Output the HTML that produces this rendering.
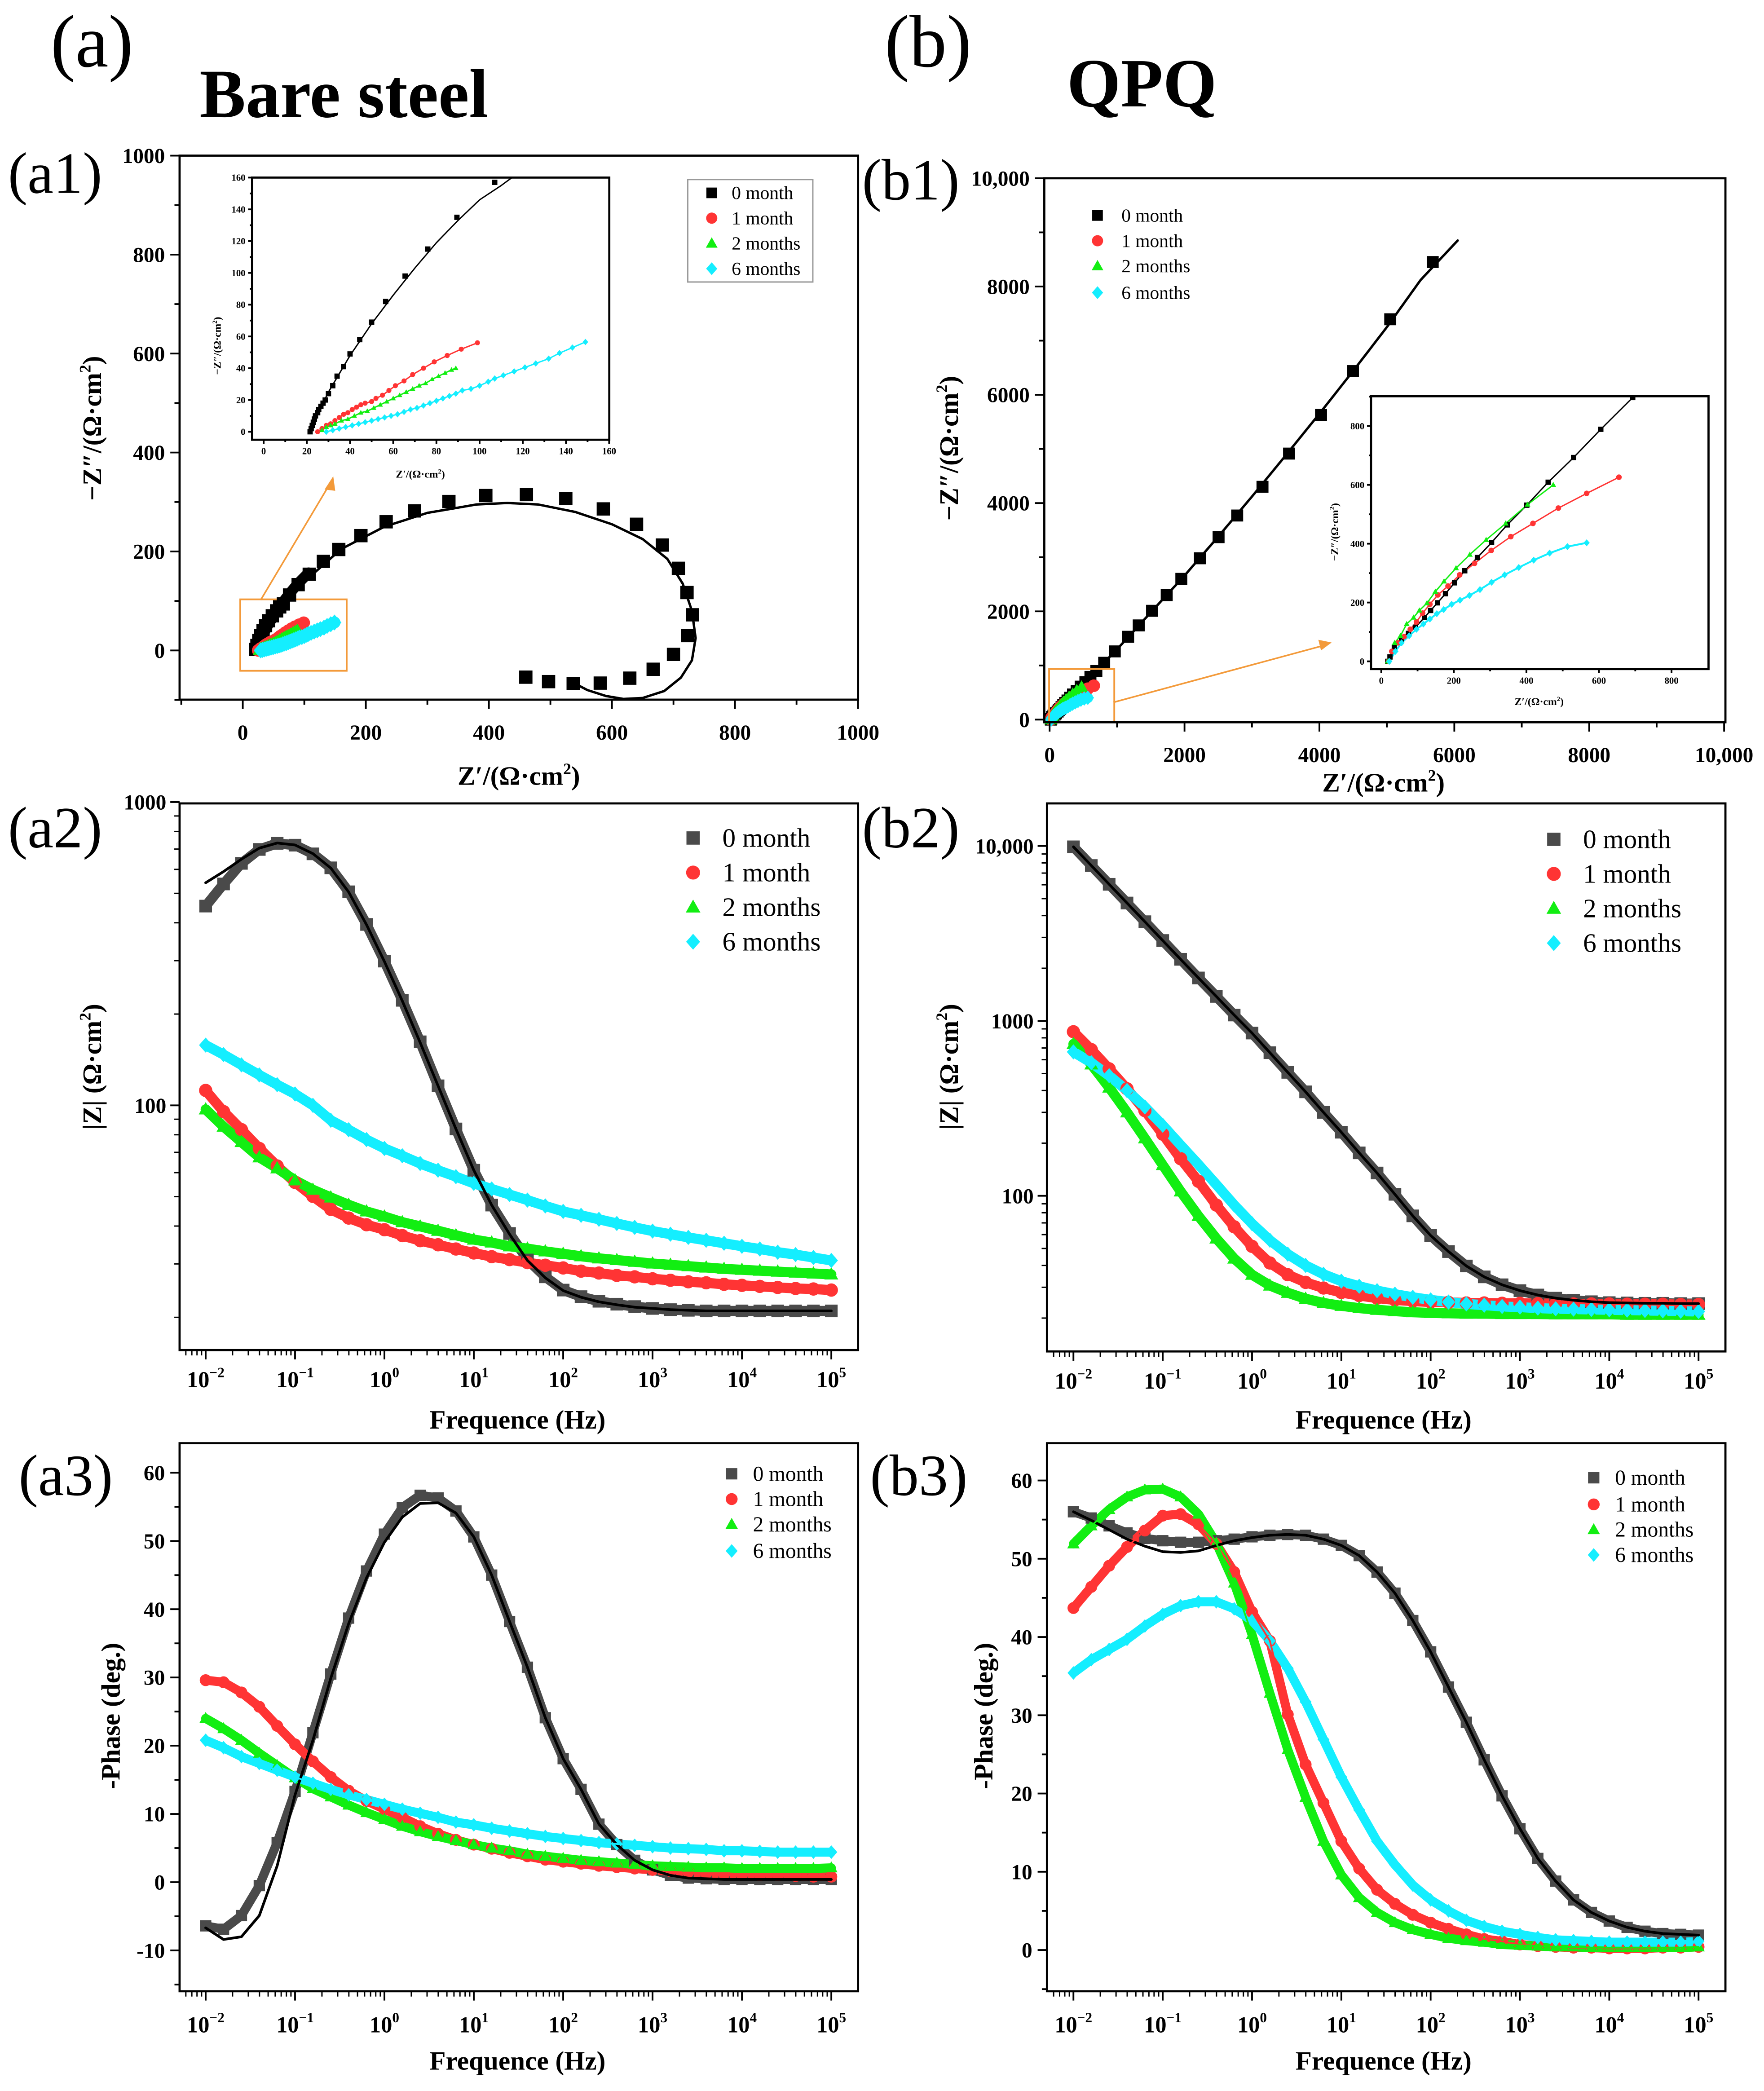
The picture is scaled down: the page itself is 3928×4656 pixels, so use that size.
<!DOCTYPE html>
<html><head><meta charset="utf-8"><title>EIS Bare steel vs QPQ</title>
<style>
html,body{margin:0;padding:0;background:#fff;}
svg{display:block;font-family:"Liberation Serif",serif;}
svg text{font-family:"Liberation Serif",serif;}
</style></head>
<body>
<svg id="fig" xmlns="http://www.w3.org/2000/svg" width="3928" height="4656" viewBox="0 0 1326 1572" preserveAspectRatio="none" font-family="Liberation Serif, serif">
<rect x="0" y="0" width="1326" height="1572" fill="#fff"/>
<text x="38" y="50" font-size="56">(a)</text>
<text x="150" y="88" font-size="52" font-weight="bold">Bare steel</text>
<text x="665" y="50" font-size="56">(b)</text>
<text x="802" y="80" font-size="52" font-weight="bold">QPQ</text>
<text x="6" y="145" font-size="44">(a1)</text>
<text x="648" y="150" font-size="44">(b1)</text>
<text x="6" y="637" font-size="44">(a2)</text>
<text x="648" y="637" font-size="44">(b2)</text>
<text x="14" y="1124" font-size="44">(a3)</text>
<text x="654" y="1124" font-size="44">(b3)</text>

<text x="390" y="590" font-size="20" font-weight="bold" text-anchor="middle">Z′/(Ω·cm<tspan font-size="12" dy="-8">2</tspan><tspan dy="8">)</tspan></text>
<text transform="translate(76,322) rotate(-90)" font-size="20" font-weight="bold" text-anchor="middle">−Z″/(Ω·cm<tspan font-size="12" dy="-8">2</tspan><tspan dy="8">)</tspan></text>
<text x="1040" y="595" font-size="20" font-weight="bold" text-anchor="middle">Z′/(Ω·cm<tspan font-size="12" dy="-8">2</tspan><tspan dy="8">)</tspan></text>
<text transform="translate(720,337) rotate(-90)" font-size="20" font-weight="bold" text-anchor="middle">−Z″/(Ω·cm<tspan font-size="12" dy="-8">2</tspan><tspan dy="8">)</tspan></text>
<text x="389" y="1074" font-size="20" font-weight="bold" text-anchor="middle">Frequence (Hz)</text>
<text transform="translate(76,802) rotate(-90)" font-size="20" font-weight="bold" text-anchor="middle">|Z| (Ω·cm<tspan font-size="12" dy="-8">2</tspan><tspan dy="8">)</tspan></text>
<text x="1040" y="1074" font-size="20" font-weight="bold" text-anchor="middle">Frequence (Hz)</text>
<text transform="translate(720,802) rotate(-90)" font-size="20" font-weight="bold" text-anchor="middle">|Z| (Ω·cm<tspan font-size="12" dy="-8">2</tspan><tspan dy="8">)</tspan></text>
<text x="389" y="1556" font-size="20" font-weight="bold" text-anchor="middle">Frequence (Hz)</text>
<text transform="translate(90,1290) rotate(-90)" font-size="20" font-weight="bold" text-anchor="middle">-Phase (deg.)</text>
<text x="1040" y="1556" font-size="20" font-weight="bold" text-anchor="middle">Frequence (Hz)</text>
<text transform="translate(746,1290) rotate(-90)" font-size="20" font-weight="bold" text-anchor="middle">-Phase (deg.)</text>

<text x="316" y="359" font-size="8" font-weight="bold" text-anchor="middle">Z′/(Ω·cm<tspan font-size="5" dy="-3">2</tspan><tspan dy="3">)</tspan></text>
<text transform="translate(166,260) rotate(-90)" font-size="8" font-weight="bold" text-anchor="middle">−Z″/(Ω·cm<tspan font-size="5" dy="-3">2</tspan><tspan dy="3">)</tspan></text>
<text x="1157" y="530" font-size="8" font-weight="bold" text-anchor="middle">Z′/(Ω·cm<tspan font-size="5" dy="-3">2</tspan><tspan dy="3">)</tspan></text>
<text transform="translate(1006,400) rotate(-90)" font-size="8" font-weight="bold" text-anchor="middle">−Z″/(Ω·cm<tspan font-size="5" dy="-3">2</tspan><tspan dy="3">)</tspan></text>
</svg>
<script>
// ---------- shared categories ----------
const logFreq = [-2,-1.8,-1.6,-1.4,-1.2,-1,-0.8,-0.6,-0.4,-0.2,0,0.2,0.4,0.6,0.8,1,1.2,1.4,1.6,1.8,2,2.2,2.4,2.6,2.8,3,3.2,3.4,3.6,3.8,4,4.2,4.4,4.6,4.8,5];
const seriesLabels = ["0 month","1 month","2 months","6 months"];
const logDecades = [-2,-1,0,1,2,3,4,5];
// ---------- a1 Nyquist (bare steel) ----------
const a1Zr0 = [21,23,26,29,33,37,42,48,55,60,66,76,90,108,131,156,192,233,279,335,395,461,525,586,640,682,708,722,731,723,700,667,629,581,537,497,460];
const a1Zi0 = [2,10,20,30,40,50,60,70,80,88,94,112,133,154,180,204,232,260,282,301,313,315,307,286,255,213,166,117,72,30,-8,-38,-56,-66,-67,-63,-54];
const a1FitZr = [20,40,70,110,160,230,300,380,430,480,540,600,650,690,715,730,736,730,712,685,650,619,590,560,540];
const a1FitZi = [0,40,95,150,205,250,278,295,298,295,280,255,225,185,135,80,25,-20,-55,-82,-96,-98,-92,-80,-67];
const a1TicksX = [0,200,400,600,800,1000];
const a1TicksY = [0,200,400,600,800,1000];
// a1 inset
const in0Zr = [21.5,22,22.5,23,23.5,24,25,25.5,26.5,27.5,28.5,30,32,34,37,40,44.5,50,56.5,65.5,76,89.5,107];
const in0Zi = [0,2,4,6,8,10,12,14,16,18,20,24,29,35,41,49,58,69,82,98,115,135,157];
const inFitZr = [21,30,40,50,60,70,80,90,100,110,115];
const inFitZi = [0,25,48,68,86,103,119,133,146,155,160];
const in1Zr = [25,27,29,31,33,35,37,39,41,43,45,47,50,52,55,58,61,65,69,74,79,85,91.5,99];
const in1Zi = [0,2,4,5,7,9,11,12,14,15.5,17,18,19,21,23,26,29,32,36,40,44,48,52,56];
const in2Zr = [27,29,31,33,36,39,42,45,48,51,54,57,60,63,66,69,72,75,78,81,84,87,89];
const in2Zi = [1,3,4,5,7,8,10,12,13,15,17,19,21,23,25,27,29,30.5,33,35,37,39,40];
const in6Zr = [29,32,35,38,41,44,47,50,53,56,59,62,65,68,71,74,77,80,83,86,89,92,96,100,104,107,111,116,121,126,132,137,143,149];
const in6Zi = [0,1,2,3,4,5,6,7,8,9,10,11,12.5,14,15,16.5,18,19.5,21,22.5,24,26,27,29,31.5,33.5,35.5,38,40.5,43,46,49.5,53,56.5];
const inTicks = [0,20,40,60,80,100,120,140,160];
// ---------- b1 Nyquist (QPQ) ----------
const b1Zr0 = [809,966,1164,1321,1519,1736,1953,2229,2505,2781,3156,3550,4024,4497,5050,5680];
const b1Zi0 = [1050,1260,1530,1740,2010,2300,2600,2980,3370,3770,4300,4914,5627,6437,7395,8452];
const b1FitZr = [0,600,1000,1500,2000,2500,3000,3500,4000,4500,5000,5500,6050];
const b1FitZi = [0,789,1300,1980,2660,3380,4120,4880,5650,6440,7250,8120,8850];
const q0Zr = [18,24,36,56,75,94,119,136,155,177,202,230,265,304,347,401,460,530,605,693];
const q0Zi = [0,15,48,73,95,116,149,173,199,230,267,308,353,404,464,531,609,693,789,897];
const q1Zr = [20,29,46,63,80,97,114,134,156,184,216,257,303,357,418,488,566,655];
const q1Zi = [0,34,63,84,109,134,164,194,226,256,294,333,377,424,469,521,571,626];
const q2Zr = [18,37,53,70,89,105,126,149,173,206,244,289,343,403,474];
const q2Zi = [0,63,87,127,149,173,198,237,272,317,363,413,469,533,600];
const q6Zr = [22,39,56,77,97,116,134,153,172,194,217,243,272,304,340,379,420,464,513,566];
const q6Zi = [0,34,63,87,109,127,144,162,176,194,208,224,244,269,294,319,344,368,390,403];
const b1TicksX = [0,2000,4000,6000,8000,10000];
const b1TickLabelsX = ["0","2000","4000","6000","8000","10,000"];
const b1TicksY = [0,2000,4000,6000,8000,10000];
const b1TickLabelsY = ["0","2000","4000","6000","8000","10,000"];
const qinTicks = [0,200,400,600,800];
// ---------- a2 |Z| bare ----------
const a2Mag0 = [454,537,628,698,731,721,675,607,506,395,299,222,162,116,83.6,61.1,46.9,37.8,31.0,27.2,24.6,23.4,22.6,22.1,21.7,21.4,21.2,21.1,21.0,21.0,21.0,21.0,21.0,21.0,21.0,21.0];
const a2Fit0 = [542,590,648,705,733,722,676,606,505,394,298,221,161,116,83.6,61.1,46.9,37.6,30.8,27.0,24.5,23.3,22.5,22.0,21.6,21.4,21.2,21.1,21.0,21.0,21.0,21.0,21.0,21.0,21.0,21.0];
const a2Mag1 = [112,95.4,83.2,72.1,63.1,55.7,50.1,45.4,42.5,40.4,38.9,37.2,35.8,34.7,33.6,32.6,31.7,31.0,30.3,29.7,29.1,28.4,28.0,27.5,27.2,26.8,26.5,26.2,26.0,25.7,25.5,25.3,25.1,24.9,24.8,24.6];
const a2Mag2 = [97,85.1,75.7,67.4,62.0,56.6,52.7,49.7,47.0,44.7,43.0,41.2,39.9,38.6,37.3,36.1,35.3,34.3,33.7,33.0,32.4,31.8,31.3,30.9,30.5,30.1,29.8,29.5,29.2,28.9,28.7,28.5,28.3,28.1,27.9,27.7];
const a2Mag6 = [158,147,136,126,117,109,100,89.3,83.1,77.1,72.1,68.2,64.3,61.1,58.2,55.3,53.0,50.8,48.7,46.6,44.7,43.4,42.1,40.8,39.6,38.5,37.6,36.7,35.9,35.1,34.3,33.6,32.8,32.2,31.5,30.8];
const a2TickLabelsY = ["100","1000"];
// ---------- b2 |Z| QPQ ----------
const b2Mag0 = [9890,7730,6040,4720,3690,2880,2250,1760,1380,1080,852,658,508,393,300,231,176,135,102,76.8,59.3,48.0,39.7,34.4,31.0,28.7,27.1,26.0,25.3,24.8,24.5,24.4,24.3,24.3,24.2,24.2];
const b2Mag1 = [867,685,532,409,307,225,163,121,88.5,66.5,51.4,41.3,35.4,32.0,29.7,28.0,26.9,26.0,25.4,25.0,24.7,24.6,24.4,24.4,24.3,24.3,24.2,24.2,24.1,24.1,24.1,24.0,24.0,24.0,23.9,23.9];
const b2Mag2 = [738,564,416,300,213,150,106,76.7,57.0,43.8,35.4,30.7,27.9,25.8,24.4,23.5,22.8,22.3,21.9,21.6,21.4,21.3,21.2,21.2,21.1,21.1,21.1,21.0,21.0,21.0,21.0,20.9,20.9,20.9,20.9,20.9];
const b2Mag6 = [665,577,486,400,322,253,195,151,116,88.6,69.3,55.7,46.4,40.0,35.6,32.5,30.4,28.7,27.4,26.3,25.4,24.7,24.1,23.7,23.3,23.1,22.8,22.6,22.5,22.4,22.3,22.2,22.1,22.0,21.9,21.8];
const b2TickLabelsY = ["100","1000","10,000"];
// ---------- a3 phase bare ----------
const a3Ph0 = [-6.4,-6.9,-4.9,-0.5,5.8,13.3,21.9,30.5,38.7,45.6,51.0,54.9,56.7,56.3,54.4,50.6,45.0,38.2,31.5,24.1,18.1,13.6,8.5,5.5,3.2,1.8,1.0,0.6,0.5,0.4,0.4,0.4,0.4,0.4,0.4,0.4];
const a3Fit0 = [-6.7,-8.4,-8.0,-4.9,2.4,12.8,20.8,29.9,37.9,44.6,49.8,53.5,55.5,55.6,54.1,50.6,45.0,38.2,31.5,24.1,18.1,13.6,8.5,5.5,3.2,1.8,1.0,0.6,0.5,0.4,0.4,0.4,0.4,0.4,0.4,0.4];
const a3Ph1 = [29.6,29.3,27.8,25.7,22.9,20.2,17.7,15.4,13.4,11.9,10.7,9.5,8.2,7.1,6.2,5.5,4.9,4.3,3.8,3.3,3.0,2.7,2.4,2.2,2.0,1.8,1.6,1.5,1.3,1.2,1.1,1.0,1.0,0.9,0.8,0.8];
const a3Ph2 = [24.0,22.5,20.8,18.9,17.1,15.3,13.7,12.5,11.3,10.2,9.2,8.2,7.4,6.7,6.1,5.5,5.0,4.6,4.1,3.8,3.5,3.2,3.0,2.8,2.6,2.4,2.3,2.2,2.1,2.1,2.0,2.0,2.0,2.0,2.0,2.1];
const a3Ph6 = [20.8,19.7,18.4,17.4,16.4,15.4,14.5,13.6,12.8,12.1,11.4,10.7,10.1,9.5,8.8,8.4,7.9,7.5,7.1,6.7,6.4,6.1,5.8,5.6,5.4,5.2,5.0,4.9,4.8,4.6,4.6,4.5,4.4,4.4,4.4,4.4];
const a3TicksY = [-10,0,10,20,30,40,50,60];
// ---------- b3 phase QPQ ----------
const b3Ph0 = [56.0,55.2,54.2,53.3,52.6,52.3,52.1,52.1,52.3,52.5,52.8,53.0,53.1,53.0,52.5,51.7,50.4,48.3,45.6,42.1,38.1,33.6,29.1,24.3,19.7,15.5,11.7,8.8,6.4,4.8,3.7,2.9,2.4,2.1,2.0,1.9];
const b3Fit0 = [56.0,54.9,53.7,52.5,51.6,50.9,50.8,51.0,51.7,52.3,52.7,53.0,53.1,53.0,52.5,51.7,50.4,48.3,45.6,42.1,38.1,33.6,29.1,24.3,19.7,15.5,11.7,8.8,6.4,4.8,3.7,2.9,2.4,2.1,2.0,1.9];
const b3Ph1 = [43.7,46.4,49.1,51.5,53.6,55.5,55.7,54.4,51.9,48.3,43.2,39.5,30.1,23.7,18.8,13.9,10.4,7.7,5.9,4.5,3.5,2.7,2.0,1.4,1.1,0.7,0.5,0.4,0.3,0.3,0.2,0.2,0.2,0.3,0.3,0.4];
const b3Ph2 = [51.9,54.2,56.3,57.9,58.8,58.9,57.9,55.7,52.0,46.9,40.3,32.8,25.6,19.5,13.9,9.6,6.7,4.8,3.5,2.6,2.0,1.5,1.2,1.0,0.7,0.6,0.5,0.4,0.4,0.3,0.3,0.3,0.3,0.3,0.3,0.4];
const b3Ph6 = [35.4,37.1,38.4,39.7,41.4,42.9,44.0,44.5,44.5,43.6,42.1,39.5,36.0,31.7,26.9,22.1,17.9,13.9,10.9,8.3,6.4,5.0,3.8,3.0,2.4,2.0,1.6,1.3,1.2,1.1,1.0,1.0,1.0,1.0,1.0,1.1];
const b3TicksY = [0,10,20,30,40,50,60];

// ================= drawing =================
const NS = 'http://www.w3.org/2000/svg';
const svg = document.getElementById('fig');
const RED = '#ff3434', GREEN = '#12ee12', CYAN = '#14eeff', DARK = '#4a4a4a';

function mk(tag, attrs, parent) {
  const e = document.createElementNS(NS, tag);
  for (const k in attrs) e.setAttribute(k, attrs[k]);
  (parent || svg).appendChild(e);
  return e;
}
function lin(v0, p0, v1, p1) { return v => p0 + (v - v0) * (p1 - p0) / (v1 - v0); }
function logScale(l0, p0, l1, p1) { const f = lin(l0, p0, l1, p1); return v => f(Math.log10(v)); }

function group(name) {
  const g = mk('g', {});
  
  
  return g;
}
function frame(g, f, name) {
  const r = mk('rect', {x: f.l, y: f.t, width: f.r - f.l, height: f.b - f.t, fill: 'none', stroke: '#000', 'stroke-width': 1.6}, g);
  
  
}
function tick(g, x1, y1, x2, y2, w) {
  const t = mk('line', {x1: x1, y1: y1, x2: x2, y2: y2, stroke: '#000', 'stroke-width': w || 1.3}, g);
  
  
}
function label(g, x, y, s, fs, anchor, name) {
  const t = mk('text', {x: x, y: y, 'font-size': fs, 'font-weight': 'bold', 'text-anchor': anchor || 'middle', 'font-family': 'Liberation Serif, serif'}, g);
  t.textContent = s;
  
  
  return t;
}
function powLabel(g, x, y, e, fs) {
  const t = mk('text', {x: x, y: y, 'font-size': fs, 'font-weight': 'bold', 'text-anchor': 'middle', 'font-family': 'Liberation Serif, serif'}, g);
  
  
  const a = mk('tspan', {}, t); a.textContent = '10';
  const b = mk('tspan', {'font-size': fs * 0.62, dy: -fs * 0.45}, t);
  b.textContent = (e < 0 ? '\u2212' + (-e) : '' + e);
}
function xLinTicks(g, X, f, majors, labels, minorStep, fs, off, len) {
  majors.forEach((v, i) => {
    tick(g, X(v), f.b, X(v), f.b + len);
    label(g, X(v), f.b + off, labels ? labels[i] : String(v), fs, 'middle', 'x-tick-label');
  });
  if (minorStep) {
    const lo = majors[0] - minorStep * 10, hi = majors[majors.length - 1];
    for (let v = lo; v <= hi; v += minorStep) {
      const x = X(v);
      if (x >= f.l - 0.5 && x <= f.r + 0.5 && !majors.includes(v)) tick(g, x, f.b, x, f.b + len * 0.55);
    }
  }
}
function yLinTicks(g, Y, f, majors, labels, minorStep, fs, off, len) {
  majors.forEach((v, i) => {
    tick(g, f.l - len, Y(v), f.l, Y(v));
    label(g, f.l - off, Y(v) + fs * 0.35, labels ? labels[i] : String(v), fs, 'end', 'y-tick-label');
  });
  if (minorStep) {
    const lo = majors[0] - minorStep * 10, hi = majors[majors.length - 1] + minorStep * 10;
    for (let v = lo; v <= hi; v += minorStep) {
      const y = Y(v);
      if (y >= f.t - 0.5 && y <= f.b + 0.5 && !majors.includes(v)) tick(g, f.l - len * 0.55, y, f.l, y);
    }
  }
}
function xLogTicks(g, XL, f, fs, off) {
  logDecades.forEach(e => {
    const x = XL(e);
    tick(g, x, f.b, x, f.b + 7);
    powLabel(g, x, f.b + off, e, fs);
    if (e < 5) for (let m = 2; m <= 9; m++) {
      const xm = XL(e + Math.log10(m));
      tick(g, xm, f.b, xm, f.b + 4, 1);
    }
  });
  for (let m = 2; m <= 9; m++) { const xm = XL(-3 + Math.log10(m)); if (xm >= f.l) tick(g, xm, f.b, xm, f.b + 4, 1); }
}
function yLogTicks(g, Y, f, decades, labels, fs, off) {
  decades.forEach((d, i) => {
    tick(g, f.l - 7, Y(d), f.l, Y(d));
    if (labels[i]) label(g, f.l - off, Y(d) + fs * 0.35, labels[i], fs, 'end', 'y-tick-label');
  });
  const e0 = Math.floor(Math.log10(decades[0])) - 1, e1 = Math.log10(decades[decades.length - 1]);
  for (let e = e0; e <= e1; e++) for (let m = 2; m <= 9; m++) {
    const y = Y(m * Math.pow(10, e));
    if (y >= f.t && y <= f.b) tick(g, f.l - 4, y, f.l, y, 1);
  }
}
function marker(g, type, x, y, s, color) {
  let e;
  const h = s / 2;
  if (type === 'square') e = mk('rect', {x: x - h, y: y - h, width: s, height: s, fill: color}, g);
  else if (type === 'circle') e = mk('circle', {cx: x, cy: y, r: h * 1.05, fill: color}, g);
  else if (type === 'triangle') e = mk('polygon', {points: `${x},${y - h * 1.15} ${x - h * 1.1},${y + h * 0.8} ${x + h * 1.1},${y + h * 0.8}`, fill: color}, g);
  else e = mk('polygon', {points: `${x},${y - h * 1.2} ${x + h * 1.05},${y} ${x},${y + h * 1.2} ${x - h * 1.05},${y}`, fill: color}, g);
  
  
  return e;
}
function pathD(xs, ys) { return xs.map((x, i) => (i ? 'L' : 'M') + x.toFixed(2) + ',' + ys[i].toFixed(2)).join(' '); }
function line(g, xs, ys, color, w, name) {
  const p = mk('path', {d: pathD(xs, ys), fill: 'none', stroke: color, 'stroke-width': w, 'stroke-linejoin': 'round', 'stroke-linecap': 'round'}, g);
  
  
}
function scatter(g, xs, ys, type, s, color, name) {
  const sg = mk('g', {}, g);
  
  
  xs.forEach((x, i) => marker(sg, type, x, ys[i], s, color));
}
const TYPES = ['square', 'circle', 'triangle', 'diamond'];
function legend(g, x, ys, tx, fs, s, colors, name) {
  const lg = mk('g', {}, g);
  
  
  seriesLabels.forEach((lab, i) => {
    const m = marker(lg, TYPES[i], x, ys[i], s, colors[i]);
    
    const t = mk('text', {x: tx, y: ys[i] + fs * 0.33, 'font-size': fs, 'font-family': 'Liberation Serif, serif'}, lg);
    t.textContent = lab;
    
    
  });
}

// ---------- a1 ----------
(function () {
  const g = group('chart-a1-nyquist-bare');
  const f = {l: 135, r: 645, t: 117, b: 526};
  const X = lin(0, 182.5, 1000, 645), Y = lin(0, 489, 1000, 117);
  const cols = ['#000', RED, GREEN, CYAN];
  const ob = mk('rect', {x: 180.6, y: 450.6, width: 80, height: 53.7, fill: 'none', stroke: '#f39a3a', 'stroke-width': 1.3}, g);
  
  
  const ar = mk('line', {x1: 196, y1: 451, x2: 249, y2: 362, stroke: '#f39a3a', 'stroke-width': 1.2}, g);
  
  
  const ah = mk('polygon', {points: '250.5,358 244,368 252,369', fill: '#f39a3a'}, g);
  
  
  line(g, a1FitZr.map(X), a1FitZi.map(Y), '#000', 1.8, 'fit-line-0-month');
  line(g, in0Zr.map(X), in0Zi.map(Y), '#000', 8, 'band-0-month-low');
  line(g, in1Zr.map(X), in1Zi.map(Y), RED, 8, 'band-1-month');
  line(g, in2Zr.map(X), in2Zi.map(Y), GREEN, 8, 'band-2-months');
  line(g, in6Zr.map(X), in6Zi.map(Y), CYAN, 9, 'band-6-months');
  scatter(g, a1Zr0.map(X), a1Zi0.map(Y), 'square', 10, '#000', 'series-0-month');
  scatter(g, in1Zr.map(X), in1Zi.map(Y), 'circle', 9, RED, 'series-1-month');
  scatter(g, in2Zr.map(X), in2Zi.map(Y), 'triangle', 9, GREEN, 'series-2-months');
  scatter(g, in6Zr.map(X), in6Zi.map(Y), 'diamond', 10, CYAN, 'series-6-months');
  frame(g, f, 'a1-plot-frame');
  xLinTicks(g, X, f, a1TicksX, null, 100, 16, 30, 7);
  yLinTicks(g, Y, f, a1TicksY, null, 100, 16, 11, 7);
  const fi = {l: 189.5, r: 458, t: 133.5, b: 330.6};
  const XI = lin(0, 198.2, 160, 457.9), YI = lin(0, 324.6, 160, 133.5);
  const ig = mk('g', {}, g);
  
  
  const bgr = mk('rect', {x: fi.l, y: fi.t, width: fi.r - fi.l, height: fi.b - fi.t, fill: '#fff'}, ig);
  
  
  line(ig, inFitZr.map(XI), inFitZi.map(YI), '#000', 1, 'inset-fit-0-month');
  line(ig, in1Zr.map(XI), in1Zi.map(YI), RED, 1, 'inset-fit-1-month');
  line(ig, in2Zr.map(XI), in2Zi.map(YI), GREEN, 1, 'inset-fit-2-months');
  line(ig, in6Zr.map(XI), in6Zi.map(YI), CYAN, 1, 'inset-fit-6-months');
  scatter(ig, in0Zr.map(XI), in0Zi.map(YI), 'square', 4, '#000', 'inset-series-0-month');
  scatter(ig, in1Zr.map(XI), in1Zi.map(YI), 'circle', 3.6, RED, 'inset-series-1-month');
  scatter(ig, in2Zr.map(XI), in2Zi.map(YI), 'triangle', 3.6, GREEN, 'inset-series-2-months');
  scatter(ig, in6Zr.map(XI), in6Zi.map(YI), 'diamond', 4, CYAN, 'inset-series-6-months');
  frame(ig, fi, 'a1-inset-frame');
  xLinTicks(ig, XI, fi, inTicks, null, 10, 7, 11, 3);
  yLinTicks(ig, YI, fi, inTicks, null, 10, 7, 5, 3);
  const lb = mk('rect', {x: 517, y: 135, width: 94, height: 77, fill: '#fff', stroke: '#999', 'stroke-width': 1}, g);
  
  
  legend(g, 535, [145, 164, 183, 202], 550, 14, 8, cols, 'a1-legend');
})();

// ---------- b1 ----------
(function () {
  const g = group('chart-b1-nyquist-qpq');
  const f = {l: 785, r: 1297, t: 134, b: 543};
  const X = lin(0, 789, 10000, 1296), Y = lin(0, 541, 10000, 134);
  const cols = ['#000', RED, GREEN, CYAN];
  line(g, b1FitZr.map(X), b1FitZi.map(Y), '#000', 1.8, 'fit-line-0-month');
  line(g, q6Zr.map(X), q6Zi.map(Y), CYAN, 8, 'band-6-months');
  line(g, q2Zr.map(X), q2Zi.map(Y), GREEN, 7, 'band-2-months');
  scatter(g, q0Zr.map(X), q0Zi.map(Y), 'square', 9, '#000', 'series-0-month-low');
  scatter(g, b1Zr0.map(X), b1Zi0.map(Y), 'square', 9, '#000', 'series-0-month');
  scatter(g, q1Zr.map(X), q1Zi.map(Y), 'circle', 9, RED, 'series-1-month');
  scatter(g, q2Zr.map(X), q2Zi.map(Y), 'triangle', 9, GREEN, 'series-2-months');
  scatter(g, q6Zr.map(X), q6Zi.map(Y), 'diamond', 9, CYAN, 'series-6-months');
  const ob = mk('rect', {x: 788.6, y: 503, width: 49, height: 39.6, fill: 'none', stroke: '#f39a3a', 'stroke-width': 1.3}, g);
  
  
  const ar = mk('line', {x1: 837, y1: 528, x2: 996, y2: 485, stroke: '#f39a3a', 'stroke-width': 1.2}, g);
  
  
  const ah = mk('polygon', {points: '1001,483 991,481 993,489', fill: '#f39a3a'}, g);
  
  
  frame(g, f, 'b1-plot-frame');
  xLinTicks(g, X, f, b1TicksX, b1TickLabelsX, 1000, 16, 30, 7);
  yLinTicks(g, Y, f, b1TicksY, b1TickLabelsY, 1000, 16, 11, 7);
  const fi = {l: 1030.6, r: 1284.3, t: 297.9, b: 503};
  const XI = lin(0, 1038.3, 800, 1256.5), YI = lin(0, 497.2, 800, 320.3);
  const ig = mk('g', {}, g);
  
  
  const bgr = mk('rect', {x: fi.l, y: fi.t, width: fi.r - fi.l, height: fi.b - fi.t, fill: '#fff'}, ig);
  
  
  const cp = mk('clipPath', {id: 'clipB1'}, ig);
  const cr = mk('rect', {x: fi.l, y: fi.t, width: fi.r - fi.l, height: fi.b - fi.t}, cp);
  
  
  const cg = mk('g', {'clip-path': 'url(#clipB1)'}, ig);
  
  
  line(cg, q0Zr.concat([760]).map(XI), q0Zi.concat([985]).map(YI), '#000', 1, 'inset-fit-0-month');
  line(cg, q1Zr.map(XI), q1Zi.map(YI), RED, 1, 'inset-fit-1-month');
  line(cg, q2Zr.map(XI), q2Zi.map(YI), GREEN, 1, 'inset-fit-2-months');
  line(cg, q6Zr.map(XI), q6Zi.map(YI), CYAN, 1.4, 'inset-fit-6-months');
  scatter(cg, q0Zr.map(XI), q0Zi.map(YI), 'square', 4, '#000', 'inset-series-0-month');
  scatter(cg, q1Zr.map(XI), q1Zi.map(YI), 'circle', 4, RED, 'inset-series-1-month');
  scatter(cg, q2Zr.map(XI), q2Zi.map(YI), 'triangle', 4, GREEN, 'inset-series-2-months');
  scatter(cg, q6Zr.map(XI), q6Zi.map(YI), 'diamond', 4.4, CYAN, 'inset-series-6-months');
  frame(ig, fi, 'b1-inset-frame');
  xLinTicks(ig, XI, fi, qinTicks, null, 100, 7, 11, 3);
  yLinTicks(ig, YI, fi, qinTicks, null, 100, 7, 5, 3);
  legend(g, 825, [162, 181, 200, 220], 843, 14, 8, cols, 'b1-legend');
})();

// ---------- Bode helper ----------
function bodePanel(name, f, XL, Y, series, fits, ms, cols) {
  const g = group(name);
  const xs = logFreq.map(XL);
  // dense marker band drawn through the same data values (styling only)
  series.forEach((s, i) => line(g, xs, s.map(Y), cols[i], ms * 0.8, 'marker-band-' + seriesLabels[i].replace(' ', '-')));
  series.forEach((s, i) => scatter(g, xs, s.map(Y), TYPES[i], ms, cols[i], 'series-' + seriesLabels[i].replace(' ', '-')));
  fits.forEach((fd, i) => { if (fd) line(g, xs, fd.map(Y), i === 0 ? '#000' : cols[i], i === 0 ? 2 : 1.3, 'fit-line-' + seriesLabels[i].replace(' ', '-')); });
  frame(g, f, name + '-frame');
  return g;
}
const BCOLS = [DARK, RED, GREEN, CYAN];

// ---------- a2 ----------
(function () {
  const f = {l: 135, r: 645, t: 604, b: 1015};
  const XL = lin(-2, 154.6, 5, 624.9), Y = logScale(2, 831, 3, 603);
  const g = bodePanel('chart-a2-bode-magnitude-bare', f, XL, Y, [a2Mag0, a2Mag1, a2Mag2, a2Mag6], [a2Fit0, null, null, null], 9.5, BCOLS);
  xLogTicks(g, XL, f, 17, 28);
  yLogTicks(g, Y, f, [100, 1000], a2TickLabelsY, 16, 10);
  legend(g, 521, [630, 656, 682, 708], 543, 20, 10, BCOLS, 'a2-legend');
})();
// ---------- b2 ----------
(function () {
  const f = {l: 787, r: 1297, t: 604, b: 1016};
  const XL = lin(-2, 806.9, 5, 1276.8), Y = logScale(4, 636, 2, 899);
  const g = bodePanel('chart-b2-bode-magnitude-qpq', f, XL, Y, [b2Mag0, b2Mag1, b2Mag2, b2Mag6], [b2Mag0, null, null, null], 9.5, BCOLS);
  xLogTicks(g, XL, f, 17, 28);
  yLogTicks(g, Y, f, [100, 1000, 10000], b2TickLabelsY, 16, 10);
  legend(g, 1168, [631, 657, 683, 709], 1190, 20, 10, BCOLS, 'b2-legend');
})();
// ---------- a3 ----------
(function () {
  const f = {l: 135, r: 645, t: 1085, b: 1497};
  const XL = lin(-2, 154.6, 5, 624.9), Y = lin(0, 1415, 60, 1107.2);
  const g = bodePanel('chart-a3-bode-phase-bare', f, XL, Y, [a3Ph0, a3Ph1, a3Ph2, a3Ph6], [a3Fit0, null, null, a3Ph6], 8.5, BCOLS);
  xLogTicks(g, XL, f, 17, 31);
  yLinTicks(g, Y, f, a3TicksY, null, 5, 16, 11, 7);
  legend(g, 550, [1108, 1127, 1146, 1166], 566, 16, 8.5, BCOLS, 'a3-legend');
})();
// ---------- b3 ----------
(function () {
  const f = {l: 787, r: 1297, t: 1085, b: 1497};
  const XL = lin(-2, 806.9, 5, 1276.8), Y = lin(0, 1466, 60, 1113);
  const g = bodePanel('chart-b3-bode-phase-qpq', f, XL, Y, [b3Ph0, b3Ph1, b3Ph2, b3Ph6], [b3Fit0, b3Ph1, b3Ph2, null], 8.5, BCOLS);
  xLogTicks(g, XL, f, 17, 31);
  yLinTicks(g, Y, f, b3TicksY, null, 5, 16, 11, 7);
  legend(g, 1198, [1111, 1131, 1150, 1169], 1214, 16, 8.5, BCOLS, 'b3-legend');
})();
</script>
</body></html>
